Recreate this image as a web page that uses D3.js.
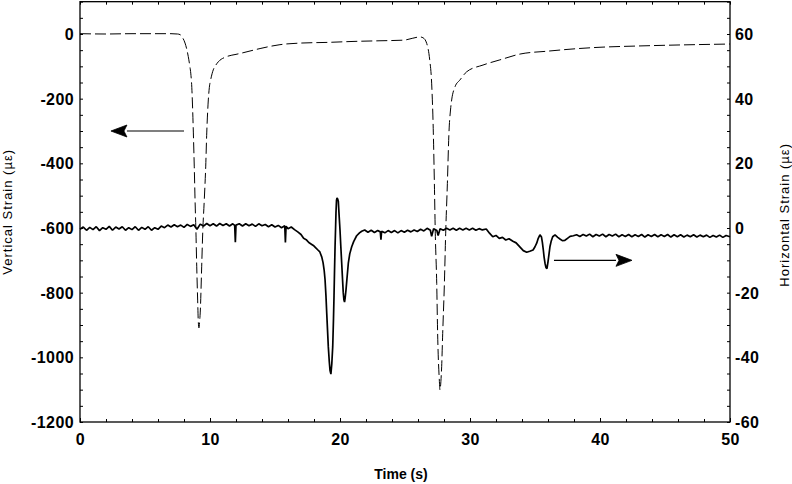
<!DOCTYPE html>
<html>
<head>
<meta charset="utf-8">
<script src="https://cdn.jsdelivr.net/npm/d3@7"></script>
<style>
  html, body { margin: 0; padding: 0; background: #fff; }
  svg { display: block; }
  .tick text { font-family: "Liberation Sans", Arial, sans-serif; font-weight: bold; font-size: 16px; letter-spacing: 0.4px; fill: #000; }
  .tick line { stroke: #000; stroke-width: 1; }
</style>
</head>
<body>
<svg id="chart" width="792" height="484"></svg>
<script>
// ---------- DATA ----------
// Vertical strain (left axis, dashed) : [time s, strain µε]
const verticalStrain = [
  [0,1],[2,0],[4,1],[6,1],[7,1],[7.5,0],[7.7,-2],[7.9,-12],[8.08,-28],[8.2,-45],[8.33,-70],
  [8.45,-100],[8.52,-121],[8.6,-165],[8.64,-204],[8.72,-306],[8.79,-411],[8.85,-513],[8.92,-615],
  [8.98,-720],[9.05,-823],[9.1,-890],[9.15,-909],[9.2,-890],[9.25,-860],[9.36,-720],[9.44,-615],
  [9.56,-513],[9.67,-411],[9.75,-306],[9.87,-204],[9.95,-165],[10.05,-142],[10.25,-111],[10.45,-96],
  [10.64,-86],[11.28,-70],[12.0,-63],[12.54,-58],[13.85,-45],[15.38,-33],[17,-28],[19,-26],[21,-23],
  [23,-21],[24.9,-19],[25.6,-13],[26.15,-9],[26.4,-12],[26.67,-29],[26.9,-80],[27.05,-152],
  [27.18,-306],[27.26,-462],[27.33,-616],[27.44,-771],[27.51,-926],[27.64,-1070],[27.69,-1101],
  [27.76,-1075],[27.82,-1029],[27.9,-926],[28.03,-771],[28.13,-616],[28.26,-462],[28.38,-306],
  [28.5,-235],[28.59,-204],[28.85,-163],[29.23,-142],[29.74,-117],[31.0,-96],[32.3,-80],[33.85,-62],
  [36,-53],[38,-46],[40,-41],[43,-37],[46,-34],[50,-31]
];

// Horizontal strain (right axis, solid) : [time s, strain µε]
const horizontalStrain = [
  [0,-0.4],[0.25,0.3],[0.5,-0.7],[0.75,0.2],[1,-0.5],[1.25,0.4],[1.5,-0.8],[1.75,0.1],[2,-0.4],
  [2.25,0.5],[2.5,-0.7],[2.75,0.3],[3,-0.3],[3.25,0.4],[3.5,-0.7],[3.75,0.1],[4,-0.5],[4.25,0.4],
  [4.5,-0.7],[4.75,0.2],[5,-0.4],[5.25,0.4],[5.5,-0.7],[5.75,0.1],[6,-0.4],[6.25,0.6],[6.5,0.1],
  [6.75,0.9],[7,0.3],[7.25,1.0],[7.5,0.4],[7.75,0.9],[8,0.2],[8.25,1.1],[8.5,0.5],[8.75,1.0],
  [9,-0.4],[9.25,1.2],[9.5,0.6],[9.75,1.4],[10,0.7],[10.25,1.3],[10.5,0.6],[10.75,1.4],[11,0.8],
  [11.25,1.3],[11.5,0.6],[11.75,1.3],[11.9,0.8],[11.95,-4.4],[12,0.9],[12.25,1.3],[12.5,0.6],
  [12.75,1.3],[13,0.7],[13.25,1.2],[13.5,0.5],[13.75,1.3],[14,0.7],[14.25,1.1],[14.5,0.4],
  [14.75,1.0],[15,0.3],[15.25,0.8],[15.5,0.1],[15.75,0.7],[15.8,-4.5],[15.85,0.5],[16,-0.2],
  [16.25,0.3],[16.5,-0.5],[16.75,-1.2],[17,-2.0],[17.2,-3.2],[17.4,-3.6],[17.6,-4.5],[17.8,-5.0],
  [17.95,-5.4],[18.1,-6.0],[18.3,-6.8],[18.45,-7.4],[18.6,-9.0],[18.7,-10.8],[18.78,-13],[18.85,-16],
  [18.92,-21],[18.98,-26.4],[19.04,-31.5],[19.1,-36.7],[19.17,-41],[19.23,-44],[19.3,-45.2],
  [19.37,-42],[19.44,-36.7],[19.5,-28],[19.54,-21],[19.58,-13],[19.62,-5.8],[19.66,0],[19.69,4.6],
  [19.73,8.5],[19.77,9.3],[19.82,9.0],[19.87,8.3],[19.93,4],[20,-0.6],[20.06,-5.5],[20.13,-10.8],
  [20.19,-15.5],[20.25,-20],[20.3,-22.2],[20.35,-22.9],[20.4,-21.5],[20.46,-19.2],[20.55,-15],
  [20.64,-10.9],[20.75,-8],[20.9,-5.8],[21.05,-4.2],[21.28,-2.4],[21.5,-1.5],[21.67,-1.0],
  [21.9,-0.6],[22.15,-1.3],[22.4,-0.7],[22.65,-1.4],[22.9,-0.8],[23.1,-1.2],[23.15,-3.6],[23.2,-1.0],
  [23.45,-1.5],[23.7,-0.8],[23.95,-1.4],[24.2,-0.8],[24.45,-1.5],[24.7,-0.8],[24.95,-1.3],[25.2,-0.7],
  [25.45,-1.2],[25.7,-0.6],[25.95,-1.1],[26.2,-0.4],[26.45,-0.9],[26.7,-0.1],[26.95,-0.7],[27.05,-2.6],
  [27.2,-0.2],[27.45,-0.8],[27.55,-2.3],[27.7,-0.2],[27.95,-0.7],[28.2,-0.1],[28.45,-0.6],[28.7,-0.1],
  [28.95,-0.7],[29.2,-0.1],[29.45,-0.6],[29.7,-0.1],[29.95,-0.6],[30.2,-0.1],[30.45,-0.7],[30.7,-0.2],
  [30.95,-0.6],[31.25,-0.3],[31.5,-1.6],[31.75,-2.7],[32,-2.3],[32.25,-3.2],[32.5,-2.9],[32.75,-3.7],
  [33,-3.3],[33.3,-4.1],[33.55,-4.6],[33.85,-5.9],[34.1,-7.0],[34.36,-7.5],[34.6,-7.2],[34.85,-6.8],
  [35,-5.8],[35.13,-4.7],[35.25,-3.2],[35.38,-2.1],[35.5,-2.8],[35.57,-4.5],[35.64,-6.8],[35.7,-9],
  [35.77,-10.9],[35.85,-12.3],[35.92,-12.6],[36,-10.5],[36.08,-8],[36.15,-5.8],[36.25,-4],
  [36.36,-2.7],[36.54,-2.1],[36.75,-2.9],[36.92,-3.4],[37.1,-3.9],[37.3,-3.8],[37.5,-3.2],
  [37.7,-2.6],[37.95,-2.4],[38.2,-2.1],[38.45,-2.6],[38.7,-2.0],[38.95,-2.5],[39.2,-1.9],[39.45,-2.7],
  [39.7,-2.0],[39.95,-2.5],[40.2,-1.9],[40.45,-2.7],[40.7,-2.0],[40.95,-2.5],[41.2,-1.9],[41.45,-2.7],
  [41.7,-2.1],[41.95,-2.6],[42.2,-2.0],[42.45,-2.7],[42.7,-2.1],[42.95,-2.6],[43.2,-2.0],[43.45,-2.8],
  [43.7,-2.1],[43.95,-2.6],[44.2,-2.0],[44.45,-2.7],[44.7,-2.1],[44.95,-2.6],[45.2,-2.0],[45.45,-2.8],
  [45.7,-2.1],[45.95,-2.7],[46.2,-2.1],[46.45,-2.8],[46.7,-2.2],[46.95,-2.7],[47.2,-2.1],[47.45,-2.8],
  [47.7,-2.2],[47.95,-2.7],[48.2,-2.2],[48.45,-2.9],[48.7,-2.3],[48.95,-2.8],[49.2,-2.2],[49.45,-2.9],
  [49.7,-2.3],[50,-2.7]
];

// Tick labels
const timeTicks = [0, 10, 20, 30, 40, 50];
const verticalTicks = [0, -200, -400, -600, -800, -1000, -1200];
const horizontalTicks = [60, 40, 20, 0, -20, -40, -60];

// Arrow annotations: [from time, to (tip) time, strain]
const leftArrow = { from: 8.0, to: 2.38, value: -300 };
const rightArrow = { from: 36.46, to: 42.46, value: -10 };

// Titles
const xTitle = "Time (s)";
const yLeftTitle = "Vertical Strain (\u00b5\u03b5)";
const yRightTitle = "Horizontal Strain (\u00b5\u03b5)";

// ---------- CHART ----------
const svg = d3.select("#chart");
const plot = { left: 80, right: 730, top: 1.67, bottom: 422 };

const x = d3.scaleLinear().domain([0, 50]).range([plot.left, plot.right]);
const yL = d3.scaleLinear().domain([-1200, 100]).range([plot.bottom, plot.top]);
const yR = d3.scaleLinear().domain([-60, 70]).range([plot.bottom, plot.top]);
const fmt = d => String(d);

// minor ticks (inward)
svg.append("g").attr("transform", `translate(${plot.left},0)`)
  .call(d3.axisLeft(yL).tickValues(d3.range(-1200, 101, 50)).tickSize(-3).tickFormat(""))
  .call(g => g.select(".domain").remove());
svg.append("g").attr("transform", `translate(${plot.right},0)`)
  .call(d3.axisRight(yR).tickValues(d3.range(-60, 71, 5)).tickSize(-3).tickFormat(""))
  .call(g => g.select(".domain").remove());
svg.append("g").attr("transform", `translate(0,${plot.bottom})`)
  .call(d3.axisBottom(x).tickValues(d3.range(0, 51, 2)).tickSize(-3).tickFormat(""))
  .call(g => g.select(".domain").remove());
svg.append("g").attr("transform", `translate(0,${plot.top})`)
  .call(d3.axisTop(x).tickValues(d3.range(0, 51, 2)).tickSize(-3).tickFormat(""))
  .call(g => g.select(".domain").remove());
svg.append("g").attr("transform", `translate(0,${plot.bottom})`)
  .call(d3.axisBottom(x).tickValues(timeTicks).tickSize(-4).tickFormat(""))
  .call(g => g.select(".domain").remove());

// labels
svg.append("g").attr("transform", `translate(${plot.left},0)`)
  .call(d3.axisLeft(yL).tickValues(verticalTicks).tickSize(0).tickPadding(6).tickFormat(fmt))
  .call(g => g.select(".domain").remove())
  .call(g => g.selectAll("text").attr("dy", "0.34em"));
svg.append("g").attr("transform", `translate(${plot.right},0)`)
  .call(d3.axisRight(yR).tickValues(horizontalTicks).tickSize(0).tickPadding(5).tickFormat(fmt))
  .call(g => g.select(".domain").remove())
  .call(g => g.selectAll("text").attr("dy", "0.34em"));
svg.append("g").attr("transform", `translate(0,${plot.bottom})`)
  .call(d3.axisBottom(x).tickValues(timeTicks).tickSize(0).tickPadding(12).tickFormat(fmt))
  .call(g => g.select(".domain").remove());

// frame
svg.append("rect")
  .attr("x", plot.left).attr("y", plot.top)
  .attr("width", plot.right - plot.left).attr("height", plot.bottom - plot.top)
  .attr("fill", "none").attr("stroke", "#000").attr("stroke-width", 1.3);

// vertical strain (dashed)
const lineV = d3.line().x(d => x(d[0])).y(d => yL(d[1])).curve(d3.curveMonotoneX);
svg.append("path").datum(verticalStrain)
  .attr("d", lineV).attr("fill", "none").attr("stroke", "#000")
  .attr("stroke-width", 1).attr("stroke-dasharray", "11,4");

// horizontal strain (solid)
const lineH = d3.line().x(d => x(d[0])).y(d => yR(d[1]));
svg.append("path").datum(horizontalStrain)
  .attr("d", lineH).attr("fill", "none").attr("stroke", "#000")
  .attr("stroke-width", 1.7).attr("stroke-linejoin", "bevel");

// arrows
function arrow(a, yScale) {
  const y0 = yScale(a.value);
  const x0 = x(a.from), x1 = x(a.to);
  const dir = Math.sign(x1 - x0);
  const headLen = 16, half = 6;
  const xb = x1 - dir * headLen;
  svg.append("line").attr("x1", x0).attr("y1", y0).attr("x2", xb).attr("y2", y0)
    .attr("stroke", "#000").attr("stroke-width", 1.2);
  svg.append("path")
    .attr("d", `M${x1},${y0} L${xb},${y0 - half} L${xb + dir * 3},${y0} L${xb},${y0 + half} Z`)
    .attr("fill", "#000").attr("stroke", "#000").attr("stroke-width", 0.8);
}
arrow(leftArrow, yL);
arrow(rightArrow, yR);

// titles
svg.append("text").attr("x", (plot.left + plot.right) / 2 - 4).attr("y", 479)
  .attr("text-anchor", "middle")
  .style("font-family", '"Liberation Sans", Arial, sans-serif')
  .style("font-weight", "bold").style("font-size", "14px").text(xTitle);
svg.append("text")
  .attr("transform", `translate(12,${(plot.top + plot.bottom) / 2}) rotate(-90)`)
  .attr("text-anchor", "middle")
  .style("font-family", '"Liberation Sans", Arial, sans-serif')
  .style("font-size", "13px").style("letter-spacing", "1px").text(yLeftTitle);
svg.append("text")
  .attr("transform", `translate(789,${(plot.top + plot.bottom) / 2 + 3}) rotate(-90)`)
  .attr("text-anchor", "middle")
  .style("font-family", '"Liberation Sans", Arial, sans-serif')
  .style("font-size", "13px").style("letter-spacing", "1px").text(yRightTitle);
</script>
</body>
</html>
